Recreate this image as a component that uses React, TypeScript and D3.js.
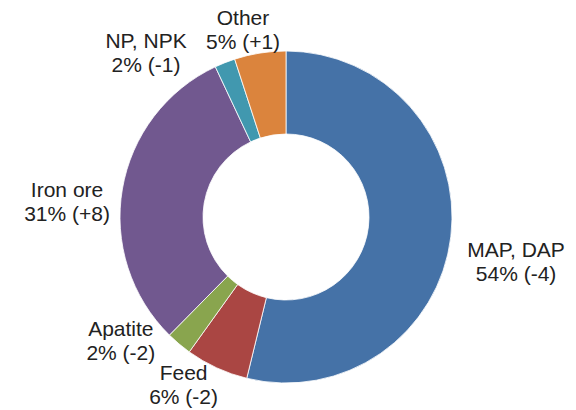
import React, { useEffect, useRef } from 'react';
import * as d3 from 'd3';

// segments, clockwise from 12 o'clock
const categories = ['MAP, DAP', 'Feed', 'Apatite', 'Iron ore', 'NP, NPK', 'Other'];
const shares = [53.8, 6.1, 2.5, 30.6, 2.0, 5.0];
const shareLabels = ['54%', '6%', '2%', '31%', '2%', '5%'];
const changeLabels = ['(-4)', '(-2)', '(-2)', '(+8)', '(-1)', '(+1)'];
const colors = ['#4572A7', '#AA4643', '#89A54E', '#71588F', '#4198AF', '#DB843D'];

const W = 576;
const H = 410;

// hand placement of labels relative to the radial position (Excel style)
const labelNudge: Record<string, [number, number]> = {
  'MAP, DAP': [26.5, 19.8],
  'Feed': [-16.9, -18.5],
  'Apatite': [-33, -32.8],
  'Iron ore': [-16.9, 18.7],
  'NP, NPK': [-64.5, 26.4],
  'Other': [-10.9, 15],
};

const App = () => {
  const ref = useRef<SVGSVGElement | null>(null);

  useEffect(() => {
    document.body.style.margin = '0';
    if (!ref.current) return;
    const svg = d3.select(ref.current);
    svg.selectAll('*').remove();

    const cx = 286;
    const cy = 217;
    const outerR = 166;
    const innerR = 83;
    const labelR = 205;

    const data = categories.map((c, i) => ({
      name: c,
      value: shares[i],
      share: shareLabels[i],
      change: changeLabels[i],
      color: colors[i],
    }));

    const pie = d3.pie<any>()
      .sort(null)
      .value(d => d.value);

    const arc = d3.arc<any>()
      .innerRadius(innerR)
      .outerRadius(outerR);

    const labelArc = d3.arc<any>()
      .innerRadius(labelR)
      .outerRadius(labelR);

    const g = svg.append('g')
      .attr('transform', `translate(${cx},${cy})`);

    const arcs = pie(data);

    g.selectAll('path')
      .data(arcs)
      .enter()
      .append('path')
      .attr('d', arc)
      .attr('fill', d => d.data.color)
      .attr('stroke', '#fff')
      .attr('stroke-width', 0.8);

    const labels = g.selectAll('text.lbl')
      .data(arcs)
      .enter()
      .append('text')
      .attr('class', 'lbl')
      .attr('text-anchor', 'middle')
      .attr('font-family', '"Liberation Sans", Arial, sans-serif')
      .attr('font-size', '21px')
      .attr('fill', '#222')
      .attr('transform', d => {
        const [x, y] = labelArc.centroid(d);
        const [dx, dy] = labelNudge[d.data.name] || [0, 0];
        return `translate(${x + dx},${y + dy})`;
      });

    labels.append('tspan')
      .attr('x', 0)
      .attr('y', -4.5)
      .text(d => d.data.name);

    labels.append('tspan')
      .attr('x', 0)
      .attr('y', 19.5)
      .text(d => `${d.data.share} ${d.data.change}`);
  }, []);

  return (
    <svg
      ref={ref}
      width={W}
      height={H}
      style={{ display: 'block', background: '#fff' }}
    />
  );
};

export default App;
